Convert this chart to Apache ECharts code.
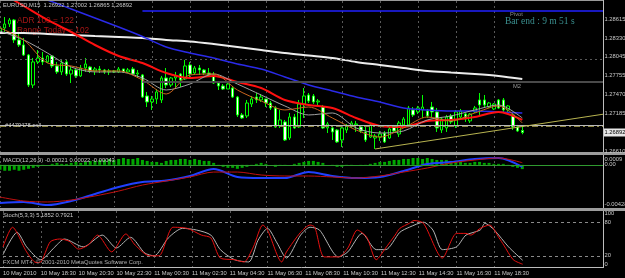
<!DOCTYPE html>
<html><head><meta charset="utf-8">
<script src="https://cdn.jsdelivr.net/npm/echarts@6/dist/echarts.min.js"></script>
<style>html,body{margin:0;padding:0;background:#000;}#c{width:625px;height:278px;}</style>
</head><body><div id="c"></div>
<script>
// ---------- DATA ----------
const timeLabels = ['10 May 2010','10 May 18:30','10 May 20:30','10 May 22:30','11 May 00:30','11 May 02:30','11 May 04:30','11 May 06:30','11 May 08:30','11 May 10:30','11 May 12:30','11 May 14:30','11 May 16:30','11 May 18:30'];
const timeLabelBars = [0,8,16,24,32,40,48,56,64,72,80,88,96,104];

const opens = [1.28423,1.28483,1.28544,1.28605,1.28301,1.28225,1.28072,1.27615,1.27966,1.28026,
1.27966,1.28057,1.27905,1.27814,1.27966,1.27783,1.27844,1.27753,1.27874,1.27889,
1.27829,1.27859,1.27844,1.27814,1.27829,1.27814,1.27859,1.27814,1.27859,1.27783,
1.27768,1.27448,1.27357,1.27402,1.27387,1.27722,1.27615,1.27722,1.27783,1.27707,
1.27920,1.27798,1.27874,1.27844,1.27798,1.27768,1.27645,1.27600,1.27554,1.27569,
1.27432,1.27159,1.27144,1.27326,1.27432,1.27387,1.27402,1.27341,1.27265,1.26992,
1.27053,1.26808,1.27128,1.26976,1.27326,1.27463,1.27448,1.27357,1.27280,1.26961,
1.26961,1.26930,1.26778,1.26930,1.26992,1.27007,1.26976,1.26900,1.26823,1.26808,
1.26823,1.26884,1.26808,1.26976,1.26869,1.27007,1.27007,1.27235,1.27205,1.27235,
1.27220,1.27280,1.27205,1.26930,1.26961,1.27144,1.26992,1.27128,1.27174,1.27068,
1.27205,1.27387,1.27387,1.27280,1.27250,1.27387,1.27387,1.27235,1.27159,1.26976,
1.26922];
const highs = [1.28529,1.28650,1.28635,1.28620,1.28407,1.28331,1.28087,1.28026,1.28148,1.28118,
1.28072,1.28072,1.27966,1.27996,1.27996,1.27889,1.27874,1.27920,1.28026,1.27905,
1.27889,1.27905,1.27859,1.27859,1.27844,1.27889,1.27859,1.27874,1.27889,1.27844,
1.27783,1.27509,1.27448,1.27554,1.27753,1.27874,1.27737,1.27814,1.27798,1.27996,
1.27966,1.27905,1.27920,1.27859,1.27874,1.27814,1.27661,1.27630,1.27661,1.27600,
1.27448,1.27189,1.27387,1.27448,1.27493,1.27478,1.27402,1.27372,1.27296,1.27235,
1.27083,1.27189,1.27174,1.27387,1.27569,1.27493,1.27478,1.27402,1.27311,1.27053,
1.26992,1.26946,1.26992,1.27022,1.27068,1.27068,1.26992,1.26976,1.27037,1.26869,
1.26915,1.26915,1.26976,1.27007,1.27068,1.27128,1.27296,1.27280,1.27296,1.27463,
1.27250,1.27357,1.27265,1.27128,1.27159,1.27174,1.27235,1.27250,1.27189,1.27189,
1.27296,1.27493,1.27463,1.27357,1.27341,1.27402,1.27417,1.27311,1.27205,1.27007,
1.27002];
const lows = [1.28392,1.28423,1.28498,1.28255,1.28194,1.28057,1.27584,1.27569,1.27935,1.27920,
1.27950,1.27874,1.27783,1.27768,1.27753,1.27645,1.27722,1.27737,1.27814,1.27798,
1.27768,1.27798,1.27783,1.27768,1.27798,1.27798,1.27798,1.27798,1.27768,1.27737,
1.27417,1.27280,1.27235,1.27326,1.27341,1.27569,1.27584,1.27569,1.27584,1.27691,
1.27722,1.27783,1.27768,1.27768,1.27753,1.27630,1.27539,1.27539,1.27554,1.27417,
1.27128,1.27098,1.27113,1.27280,1.27341,1.27357,1.27280,1.27235,1.26961,1.26961,
1.26763,1.26778,1.26946,1.26961,1.27113,1.27341,1.27326,1.27296,1.26946,1.26884,
1.26778,1.26732,1.26671,1.26884,1.26961,1.26900,1.26884,1.26748,1.26808,1.26641,
1.26763,1.26732,1.26793,1.26884,1.26823,1.26961,1.26976,1.27128,1.27174,1.27113,
1.27113,1.27128,1.26900,1.26884,1.26900,1.27022,1.26961,1.27113,1.27053,1.27037,
1.27189,1.27159,1.27280,1.27265,1.27235,1.27250,1.27205,1.27205,1.26930,1.26900,
1.26865];
const closes = [1.28483,1.28544,1.28605,1.28301,1.28225,1.28072,1.27615,1.27966,1.28026,1.27966,
1.28057,1.27905,1.27814,1.27950,1.27783,1.27844,1.27753,1.27874,1.27935,1.27829,
1.27859,1.27844,1.27814,1.27829,1.27814,1.27859,1.27814,1.27844,1.27783,1.27798,
1.27432,1.27357,1.27402,1.27509,1.27722,1.27615,1.27722,1.27753,1.27691,1.27905,
1.27783,1.27874,1.27844,1.27798,1.27768,1.27645,1.27600,1.27554,1.27630,1.27432,
1.27159,1.27113,1.27341,1.27402,1.27387,1.27432,1.27341,1.27265,1.26976,1.27083,
1.26778,1.27128,1.26961,1.27326,1.27448,1.27372,1.27357,1.27372,1.26961,1.27022,
1.26900,1.26748,1.26961,1.26992,1.27037,1.27022,1.26915,1.26778,1.27007,1.26839,
1.26869,1.26748,1.26946,1.26915,1.27037,1.27098,1.27265,1.27159,1.27265,1.27280,
1.27144,1.27205,1.26961,1.27098,1.27128,1.27053,1.27205,1.27220,1.27098,1.27174,
1.27265,1.27311,1.27311,1.27341,1.27326,1.27265,1.27235,1.27296,1.26976,1.26915,
1.26892];

// moving averages read every 5 bars
const maBars   = [0,5,10,15,20,25,30,35,40,45,50,55,60,65,70,75,80,85,90,95,100,105,110];
const maWhite  = [1.28407,1.28407,1.28392,1.28377,1.28361,1.28346,1.28331,1.28301,1.28278,1.28239,1.28194,1.28148,1.28102,1.28064,1.28026,1.27966,1.27920,1.27874,1.27829,1.27806,1.27783,1.27753,1.27707];
const maBlue   = [1.29137,1.29016,1.28909,1.28772,1.28635,1.28498,1.28354,1.28194,1.28102,1.28026,1.27935,1.27859,1.27737,1.27615,1.27524,1.27432,1.27357,1.27265,1.27235,1.27220,1.27220,1.27205,1.27189];
const maRed    = [1.29031,1.28818,1.28605,1.28422,1.28224,1.28057,1.27950,1.27798,1.27722,1.27753,1.27661,1.27569,1.27387,1.27311,1.27265,1.27113,1.26992,1.26976,1.27068,1.27083,1.27128,1.27205,1.27083];
const maGray   = [1.28437,1.28301,1.28102,1.27889,1.27814,1.27814,1.27722,1.27539,1.27630,1.27783,1.27630,1.27463,1.27296,1.27159,1.27189,1.26961,1.26884,1.26915,1.27083,1.27144,1.27235,1.27311,1.27113];
const maOrange = [1.28483,1.28301,1.27950,1.27905,1.27829,1.27829,1.27691,1.27478,1.27768,1.27783,1.27539,1.27372,1.27235,1.27280,1.27113,1.26930,1.26823,1.26961,1.27128,1.27068,1.27189,1.27296,1.27037];

// price levels
const priceTicks = [1.28615,1.28330,1.28045,1.27755,1.27470,1.27185,1.26610];
const priceTickLabels = ['1.28615','1.28330','1.28045','1.27755','1.27470','1.27185','1.26610'];
const lastPrice = 1.26892;
const pivotLevel = 1.28749, m2Level = 1.27666, orderStop = 1.27200, orderLine = 1.27067, orderOpen = 1.26950;
const dayStartBar = 30;
const trendFrom = [79, 1.26641], trendTo = [127, 1.27170];

// MACD
const macdLine   = [-0.00388,-0.00377,-0.00408,-0.00367,-0.00296,-0.00225,-0.00175,-0.00160,-0.00113,-0.00042,-0.00123,-0.00134,-0.00134,-0.00073,-0.00113,-0.00134,-0.00123,-0.00062,0.00009,0.00029,0.00060,0.00070,-0.00021];
const macdSignal = [-0.00327,-0.00367,-0.00377,-0.00357,-0.00316,-0.00266,-0.00205,-0.00164,-0.00123,-0.00073,-0.00073,-0.00103,-0.00113,-0.00113,-0.00123,-0.00134,-0.00113,-0.00073,-0.00032,0.00019,0.00049,0.00070,0.00022];
const macdHist = [-0.0005,-0.0006,-0.0006,-0.0005,-0.0006,-0.0005,-0.0004,-0.0003,-0.0002,
-0.0001,0,0.0001,0.0002,0.0001,0.0001,0.0002,0.0003,0.0002,0.0003,0.0004,0.0004,
0.0005,0.0005,0.0006,0.0005,0.0006,0.0007,0.0006,0.0006,0.0007,0.0005,0.0004,0.0003,0.0003,0.0002,0.0004,0.0005,0.0005,0.0006,0.0006,0.0005,0.0006,0.0005,0.0004,0.0004,
0.0002,-0.0001,-0.0002,-0.0003,-0.0003,-0.0004,-0.0003,-0.0002,
-0.0001,0.0001,0.0002,0.0001,0,-0.0002,-0.0001,-0.0001,0,0.0001,0.0002,
0.0003,0.0004,0.0004,0.0003,0.0002,0,-0.0001,
-0.0002,-0.0002,-0.0001,-0.0001,0,-0.0001,-0.0001,0.0001,
0.0002,0.0003,0.0003,0.0004,0.0005,0.0005,0.0006,0.0006,
0.0007,0.0007,0.0006,0.0007,0.0006,0.0005,0.0005,0.0005,0.0004,
0.0003,0.0003,0.0002,0.0002,0.0003,0.0003,0.0002,0.0002,0.0001,0.0001,0.0001,
-0.0001,-0.0002,-0.0003,-0.00043];
const macdTicks = [0.0009, 0, -0.00428];
const macdTickLabels = ['0.0009','0.00','-0.00428'];

// Stochastic (bar, value)
const stochMain = [[0,36],[2,71],[5,27],[7,8],[8,9],[10,45],[12,50],[14,46],[16,32],[18,39],[20,57],[23,27],[26,59],[28,39],[31,20],[33,20],[36,71],[39,69],[42,57],[44,52],[46,16],[49,13],[51,9],[53,36],[55,75],[56,66],[59,9],[60,27],[63,62],[65,75],[66,71],[68,18],[71,18],[73,34],[75,66],[77,53],[79,13],[81,34],[83,57],[84,69],[86,78],[87,83],[89,78],[93,16],[96,60],[98,60],[99,57],[101,69],[103,75],[105,52],[106,39],[108,13],[110,5]];
const stochSignal = [[0,22],[3,62],[5,36],[8,13],[11,36],[13,50],[17,36],[21,57],[24,34],[27,53],[30,25],[32,20],[35,52],[38,69],[41,66],[44,57],[46,31],[49,13],[52,9],[54,48],[56,69],[58,43],[60,16],[63,57],[65,71],[67,66],[71,18],[73,27],[76,60],[79,31],[81,31],[84,62],[86,71],[89,80],[91,66],[93,31],[96,36],[98,57],[101,66],[102,78],[104,66],[107,36],[110,12]];
const stochTicks = [100, 80, 20, 0];
const stochTickLabels = ['100','80','20','0'];

// ---------- CHART ----------
const N = 128;
const cats = Array.from({length: N}, (_, i) => String(i));
const FONT = '"Liberation Sans", Arial, sans-serif';
const FS = 5.8;
const GRID_COL = '#595959';
const TXT = '#c8c8c8';
const isLabelBar = i => timeLabelBars.indexOf(i) >= 0;

function xAxisCfg(gi, showLabels) {
  return {
    type: 'category', gridIndex: gi, data: cats, boundaryGap: false,
    axisLine: {show: false}, axisTick: {show: false},
    axisLabel: {
      show: showLabels, interval: (i) => isLabelBar(i),
      formatter: (v) => { const k = timeLabelBars.indexOf(Number(v)); return k >= 0 ? timeLabels[k] : ''; },
      color: TXT, fontSize: FS, fontFamily: FONT, align: 'left', margin: 3.5
    },
    splitLine: {show: true, interval: (i) => isLabelBar(i), lineStyle: {color: GRID_COL, type: [2, 3], width: 1}}
  };
}
const pairs = arr => maBars.map((b, k) => [b, arr[k]]);
const lineS = (xi, data, color, width, z, smooth) => ({
  type: 'line', xAxisIndex: xi, yAxisIndex: xi, data, symbol: 'none', showSymbol: false,
  smooth: smooth, lineStyle: {color, width}, z, silent: true, animation: false
});

const chart = echarts.init(document.getElementById('c'));
chart.setOption({
  backgroundColor: '#000000',
  animation: false,
  grid: [
    {left: 0, width: 603, top: 1, height: 151},
    {left: 0, width: 603, top: 156, height: 51},
    {left: 0, width: 603, top: 211, height: 56}
  ],
  xAxis: [xAxisCfg(0, false), xAxisCfg(1, false), xAxisCfg(2, true)],
  yAxis: [
    {type: 'value', gridIndex: 0, min: 1.26595, max: 1.28894, show: false},
    {type: 'value', gridIndex: 1, min: -0.00428, max: 0.0009, show: false},
    {type: 'value', gridIndex: 2, min: 0, max: 100, show: false}
  ],
  series: [
    {type: 'line', xAxisIndex: 0, yAxisIndex: 0, data: [], silent: true, z: 1,
      markLine: {silent: true, symbol: ['none', 'none'], label: {show: false}, animation: false,
        lineStyle: {color: GRID_COL, type: [2, 3], width: 1},
        data: priceTicks.map(v => ({yAxis: v})).concat([
          {yAxis: orderStop, lineStyle: {color: '#e00000', type: [5, 2, 1, 2], width: 1}},
          {yAxis: orderLine, lineStyle: {color: '#cfc89a', type: 'solid', width: 1}},
          {yAxis: orderOpen, lineStyle: {color: '#8a8440', type: [6, 3, 2, 3], width: 2}},
          {yAxis: lastPrice, lineStyle: {color: '#b8b8b8', type: 'solid', width: 1}},
          [{coord: [dayStartBar, pivotLevel], lineStyle: {color: '#2020ff', type: 'solid', width: 1.5}}, {coord: [N - 1, pivotLevel]}],
          [{coord: [dayStartBar, m2Level], lineStyle: {color: '#4a4a4a', type: 'solid', width: 2}}, {coord: [N - 1, m2Level]}],
          [{coord: trendFrom, lineStyle: {color: '#b8b450', type: 'solid', width: 1}}, {coord: trendTo}]
        ])}},
    {type: 'candlestick', xAxisIndex: 0, yAxisIndex: 0, barWidth: 3, z: 2, silent: true, animation: false,
      itemStyle: {color: '#000000', color0: '#ffffff', borderColor: '#00ff00', borderColor0: '#00ff00', borderWidth: 1},
      data: opens.map((o, i) => [o, closes[i], lows[i], highs[i]])},
    lineS(0, pairs(maWhite), '#ececec', 2, 4, 0.3),
    lineS(0, pairs(maBlue), '#2a2ae8', 1.5, 4, 0.3),
    lineS(0, pairs(maRed), '#ff1010', 2, 4, 0.3),
    lineS(0, pairs(maGray), '#a0a0a0', 1, 4, 0.3),
    lineS(0, pairs(maOrange), '#c8641e', 1, 4, 0.3),

    {type: 'bar', xAxisIndex: 1, yAxisIndex: 1, data: macdHist, barWidth: 3, silent: true, animation: false,
      itemStyle: {color: '#00a800'}, z: 2,
      markLine: {silent: true, symbol: ['none', 'none'], label: {show: false}, animation: false,
        data: [{yAxis: 0, lineStyle: {color: '#2f9a2f', type: 'solid', width: 1}}]}},
    lineS(1, pairs(macdLine), '#2040ff', 2, 4, 0.3),
    lineS(1, pairs(macdSignal), '#c01010', 1, 4, 0.3),

    {type: 'line', xAxisIndex: 2, yAxisIndex: 2, data: [], silent: true, z: 1,
      markLine: {silent: true, symbol: ['none', 'none'], label: {show: false}, animation: false,
        lineStyle: {color: '#8a8a8a', type: [3, 3], width: 1},
        data: [{yAxis: 80}, {yAxis: 20}]}},
    lineS(2, stochSignal, '#b4b4b4', 1, 4, 0.25),
    lineS(2, stochMain, '#e81010', 1, 5, 0.25)
  ]
});

// ---------- overlay texts and frame ----------
const yP = (ai, v) => chart.convertToPixel({yAxisIndex: ai}, v);
const T = (x, y, s, fill, size, family, z) => ({type: 'text', silent: true, z: z || 100,
  style: {x, y, text: s, fill, fontSize: size, fontFamily: family || FONT, verticalAlign: 'middle', align: 'left'}});
const g = [];
// frame
g.push({type: 'line', silent: true, z: 90, shape: {x1: 0, y1: 0.5, x2: 603, y2: 0.5}, style: {stroke: '#9a9a9a', lineWidth: 1}});
g.push({type: 'line', silent: true, z: 90, shape: {x1: 603.5, y1: 0, x2: 603.5, y2: 268}, style: {stroke: '#bdbdbd', lineWidth: 1}});
g.push({type: 'line', silent: true, z: 90, shape: {x1: 0, y1: 267.5, x2: 603, y2: 267.5}, style: {stroke: '#bdbdbd', lineWidth: 1}});
g.push({type: 'rect', silent: true, z: 90, shape: {x: 0, y: 152, width: 625, height: 3}, style: {fill: '#9c9c9c'}});
g.push({type: 'rect', silent: true, z: 90, shape: {x: 0, y: 208, width: 625, height: 3}, style: {fill: '#9c9c9c'}});
// price scale
const LX = 604.5;
priceTicks.forEach((v, k) => g.push(T(LX, yP(0, v), priceTickLabels[k], TXT, FS)));
const lp = yP(0, lastPrice);
g.push({type: 'rect', silent: true, z: 99, shape: {x: 604, y: lp - 4, width: 21, height: 8}, style: {fill: '#e6e6e6'}});
g.push(T(LX, lp, lastPrice.toFixed(5), '#000000', FS));
// MACD scale
g.push(T(LX, yP(1, macdTicks[0]) + 3, macdTickLabels[0], TXT, FS));
g.push(T(LX, yP(1, macdTicks[1]), macdTickLabels[1], TXT, FS));
g.push(T(LX, yP(1, macdTicks[2]) - 3, macdTickLabels[2], TXT, FS));
// Stoch scale
g.push(T(LX, yP(2, stochTicks[0]) + 2.5, stochTickLabels[0], TXT, FS));
g.push(T(LX, yP(2, stochTicks[1]), stochTickLabels[1], TXT, FS));
g.push(T(LX, yP(2, stochTicks[2]), stochTickLabels[2], TXT, FS));
g.push(T(LX, yP(2, stochTicks[3]) - 3, stochTickLabels[3], TXT, FS));
// labels inside panels
g.push(T(3, 5, 'EURUSD,M15  1.26922 1.27002 1.26865 1.26892', TXT, FS));
g.push(T(17, 20.5, 'ADR 100 = 122', '#a81616', 8.3, FONT, 1));
g.push(T(17, 31, 'Range Today = 102', '#a81616', 8.3, FONT, 1));
g.push(T(510, 14.5, 'Pivot', '#8a8a8a', FS));
g.push(T(505, 21, 'Bar end : 9 m 51 s', '#3a9090', 9.5, '"Liberation Serif", serif'));
g.push(T(513, 86.5, 'M2', '#9a9a9a', FS));
g.push(T(5, 125, '#4479478 sell', TXT, FS));
g.push(T(3, 160, 'MACD(12,26,9) -0.00021 0.00022 -0.00043', TXT, FS));
g.push(T(3, 215, 'Stoch(5,3,3) 5.1852 0.7921', TXT, FS));
g.push(T(3, 262, 'FXCM MT4, \u00a9 2001-2010 MetaQuotes Software Corp.', '#b0b0b0', FS));
chart.setOption({graphic: g});
</script>
</body></html>
